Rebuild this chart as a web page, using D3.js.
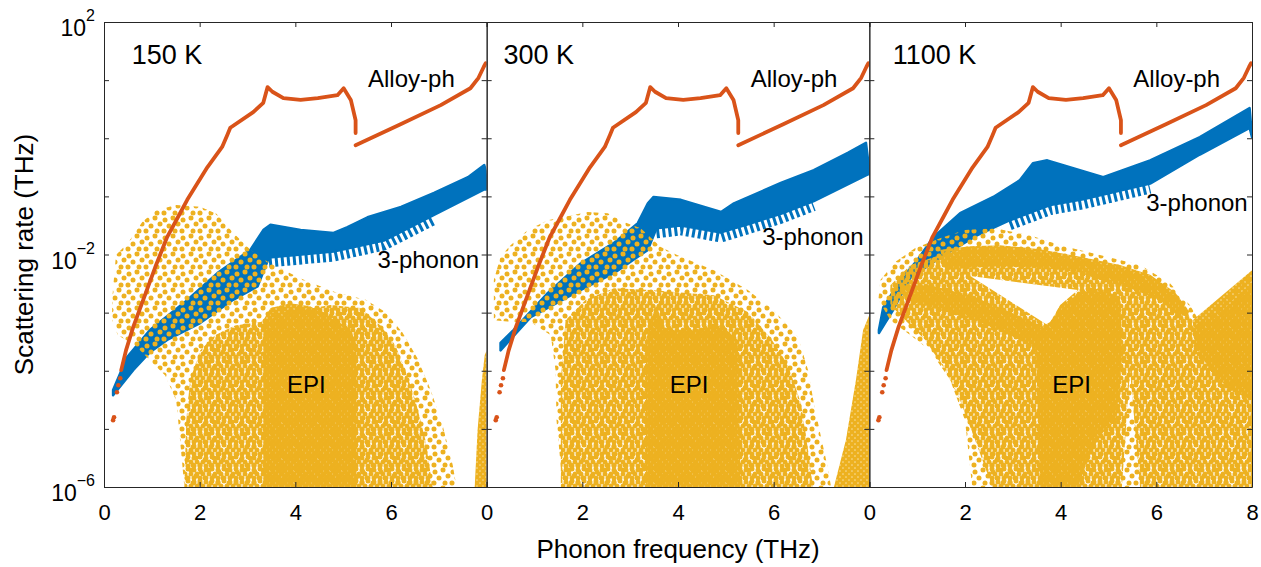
<!DOCTYPE html>
<html>
<head>
<meta charset="utf-8">
<script src="https://cdn.jsdelivr.net/npm/d3@7"></script>
<style>
  body { margin: 0; background: #fff; }
  svg { font-family: "Liberation Sans", Arial, Helvetica, sans-serif; }
</style>
</head>
<body>
<svg id="chart"></svg>
<script>
// values are [frequency THz, log10(scattering rate THz)]
const temps = ['150 K', '300 K', '1100 K'];
const freqTicks = [0, 2, 4, 6, 8];
const rateExps = [2, 1, 0, -1, -2, -3, -4, -5, -6];
const rateLabelExps = [2, -2, -6];

// alloy-phonon scattering (same in every panel)
const alloyLow = [[0.19, -4.85], [0.21, -4.80], [0.27, -4.37], [0.30, -4.25], [0.34, -4.13]];
const alloyA = [[0.36, -3.99], [0.46, -3.65], [0.61, -3.25], [0.82, -2.78], [1.07, -2.22], [1.32, -1.70],
  [1.59, -1.29], [1.74, -1.06], [2.16, -0.50], [2.47, -0.15], [2.58, 0.06], [2.64, 0.18], [3.12, 0.45],
  [3.33, 0.61], [3.42, 0.88], [3.52, 0.80], [3.75, 0.69], [4.11, 0.66], [4.47, 0.69], [4.88, 0.74],
  [5.01, 0.86], [5.16, 0.66], [5.26, 0.31], [5.26, 0.09]];
const alloyB = [[5.26, -0.12], [6.20, 0.24], [7.04, 0.57], [7.66, 0.86], [7.83, 1.04], [7.94, 1.23], [7.98, 1.29]];

// 3-phonon band envelopes
const ph150Upper = [[0.19, -4.33], [0.48, -3.77], [0.96, -3.30], [1.66, -2.84], [2.37, -2.32], [3.06, -1.92],
  [3.33, -1.58], [3.48, -1.49], [4.11, -1.58], [4.80, -1.63], [5.09, -1.53], [5.51, -1.36], [6.21, -1.18],
  [6.90, -0.94], [7.61, -0.67], [7.95, -0.46], [8.0, -0.63]];
const ph150Lower = [[0.19, -4.42], [0.61, -3.99], [0.96, -3.68], [1.32, -3.47], [2.01, -3.18], [2.70, -2.78],
  [3.21, -2.55], [3.45, -2.05], [3.84, -2.02], [4.80, -1.95], [5.85, -1.76], [6.90, -1.32], [7.95, -0.88], [8.0, -0.88]];
const ph300Upper = [[0.29, -3.52], [0.56, -3.30], [1.28, -2.66], [1.97, -2.15], [2.66, -1.80], [3.16, -1.46],
  [3.37, -1.12], [3.49, -1.01], [4.06, -1.06], [4.90, -1.27], [5.17, -1.12], [6.15, -0.77], [6.84, -0.55],
  [7.55, -0.25], [7.93, -0.08], [8.0, -0.55]];
const ph300Lower = [[0.29, -3.65], [0.92, -3.08], [1.97, -2.61], [2.66, -2.32], [3.37, -1.92], [3.55, -1.55],
  [4.06, -1.50], [4.90, -1.62], [5.46, -1.48], [6.15, -1.30], [6.84, -1.08], [7.97, -0.62], [8.0, -0.62]];
const ph1100Upper = [[0.20, -3.30], [0.29, -2.91], [0.65, -2.44], [1.0, -2.10], [1.34, -1.70], [1.90, -1.29],
  [2.59, -1.01], [3.15, -0.72], [3.42, -0.43], [3.72, -0.38], [4.0, -0.45], [4.89, -0.67], [5.87, -0.38],
  [6.91, 0.02], [7.95, 0.52], [8.0, 0.02]];
const ph1100Lower = [[0.20, -3.35], [0.50, -2.95], [0.86, -2.40], [1.54, -2.02], [2.25, -1.67], [2.94, -1.41],
  [3.78, -1.15], [4.47, -1.05], [5.87, -0.78], [6.91, -0.28], [7.95, 0.18], [8.0, 0.02]];

// EPI point cloud outlines, by density
const epi150Sparse = [[0.17, -2.78], [0.25, -2.01], [0.50, -1.80], [0.80, -1.44], [1.09, -1.24], [1.51, -1.15],
  [2.01, -1.18], [2.35, -1.30], [2.68, -1.61], [3.06, -1.92], [3.43, -2.13], [4.10, -2.41], [4.84, -2.65],
  [5.47, -2.78], [5.88, -2.99], [6.24, -3.34], [6.55, -3.78], [6.83, -4.33], [7.08, -4.94], [7.29, -5.62],
  [7.37, -6.0], [1.68, -6.0], [1.59, -5.19], [1.51, -4.51], [1.28, -4.08], [0.96, -3.82], [0.65, -3.56],
  [0.29, -3.39], [0.17, -3.13]];
const epi150Medium = [[1.68, -6.0], [1.72, -4.85], [1.80, -4.16], [2.01, -3.65], [2.32, -3.39], [2.74, -3.22],
  [3.27, -3.16], [3.90, -2.99], [4.73, -2.87], [5.36, -2.92], [5.78, -3.22], [6.09, -3.56], [6.30, -3.99],
  [6.51, -4.51], [6.72, -5.19], [6.87, -6.0]];
const epi150Dense = [[3.33, -6.0], [3.33, -3.13], [3.48, -2.92], [3.90, -2.84], [4.31, -2.89], [4.73, -3.09],
  [5.15, -3.27], [5.28, -3.56], [5.28, -6.0]];
const epi150Edge = [[7.75, -6.0], [7.81, -5.02], [7.90, -4.16], [7.96, -3.73], [8.0, -3.65], [8.0, -6.0]];

const epi300Sparse = [[0.15, -3.13], [0.15, -2.44], [0.29, -2.04], [0.50, -1.84], [0.86, -1.58], [1.28, -1.41],
  [2.11, -1.27], [2.53, -1.29], [2.87, -1.44], [3.22, -1.55], [3.64, -1.87], [4.06, -2.04], [4.75, -2.27],
  [5.46, -2.61], [6.00, -2.96], [6.51, -3.42], [6.72, -3.99], [6.84, -4.56], [6.99, -5.14], [7.13, -5.66],
  [7.20, -6.0], [1.59, -6.0], [1.46, -4.85], [1.44, -3.99], [1.34, -3.39], [0.92, -3.16], [0.50, -3.16]];
const epi300Medium = [[1.55, -6.0], [1.55, -4.16], [1.65, -3.13], [2.07, -2.78], [2.66, -2.58], [3.43, -2.61],
  [4.75, -2.70], [5.46, -2.99], [5.94, -3.44], [6.30, -3.90], [6.57, -4.56], [6.72, -5.37], [6.82, -6.0]];
const epi300Dense = [[3.33, -6.0], [3.33, -3.47], [3.54, -2.87], [3.74, -3.30], [4.27, -3.30], [4.90, -3.22],
  [5.25, -3.47], [5.31, -6.0]];
const epi300Edge = [[7.26, -6.0], [7.51, -5.19], [7.72, -4.16], [7.87, -3.30], [8.0, -3.04], [8.0, -6.0]];

const epi1100Sparse = [[0.19, -2.78], [0.23, -2.44], [0.54, -2.13], [0.96, -1.89], [1.48, -1.72], [2.00, -1.58],
  [2.63, -1.55], [3.36, -1.67], [3.99, -1.84], [4.82, -2.01], [5.66, -2.18], [6.28, -2.49], [6.70, -2.87],
  [6.91, -3.16], [8.0, -2.30], [8.0, -6.0], [2.15, -6.0], [2.00, -4.85], [1.69, -4.16], [1.27, -3.65],
  [0.86, -3.39], [0.44, -3.13]];
const epi1100Medium = [[0.44, -2.53], [0.86, -2.18], [1.48, -2.01], [2.11, -1.92], [2.73, -1.89], [3.57, -1.96],
  [4.41, -2.10], [5.24, -2.23], [5.97, -2.44], [6.49, -2.78], [6.80, -3.22], [7.12, -3.13], [8.0, -2.53],
  [8.0, -6.0], [5.66, -6.0], [5.45, -3.99], [5.28, -6.0], [2.57, -6.0], [2.21, -5.19], [1.90, -4.51],
  [1.59, -3.99], [1.17, -3.47], [0.75, -3.13], [0.44, -2.87]];
const epi1100Arc = [[1.48, -1.92], [2.11, -1.86], [2.73, -1.84], [3.57, -1.91], [4.41, -2.04], [5.24, -2.18],
  [5.87, -2.35], [6.39, -2.65], [6.70, -2.99], [6.49, -3.09], [6.07, -2.78], [5.45, -2.58], [4.82, -2.44],
  [4.36, -2.30], [3.57, -2.23], [2.73, -2.20], [2.11, -2.23], [1.59, -2.27]];
const epi1100Hole = [[2.11, -2.37], [4.36, -2.61], [3.99, -2.87], [3.74, -3.22]];
const epi1100Diag = [[0.65, -2.53], [1.27, -2.53], [2.11, -2.70], [2.94, -2.99], [3.57, -3.22], [3.57, -3.65],
  [2.94, -3.39], [2.21, -3.13], [1.48, -2.96], [0.75, -2.78]];
const epi1100Dense = [[3.57, -6.0], [3.47, -3.30], [3.78, -3.16], [4.03, -2.87], [4.41, -2.65], [4.82, -2.58],
  [5.24, -2.75], [5.30, -3.65], [5.16, -4.85], [4.72, -5.19], [4.36, -6.0]];
const epi1100Edge = [[6.76, -3.13], [8.0, -2.27], [8.0, -4.51], [7.54, -4.33], [7.12, -3.99], [6.80, -3.56]];

const orange = '#D95319', blue = '#0072BD', yellow = '#EDB120', axisColor = '#262626';

const W = 1261, H = 567;
const margin = { top: 22, right: 9, bottom: 80, left: 104 };
const panelW = (W - margin.left - margin.right) / 3;
const bottomY = H - margin.bottom;

const panels = [
  { temp: temps[0], tempAt: 0.58, upper: ph150Upper, lower: ph150Lower, teeth: [3.45, 7.0],
    phLabel: [7.84, -2.23],
    layers: [['sparse', epi150Sparse], ['medium', epi150Medium], ['dense', epi150Dense], ['dense', epi150Edge]] },
  { temp: temps[1], tempAt: 0.35, upper: ph300Upper, lower: ph300Lower, teeth: [3.5, 7.0],
    phLabel: [7.88, -1.84],
    layers: [['sparse', epi300Sparse], ['medium', epi300Medium], ['dense', epi300Dense], ['dense', epi300Edge]] },
  { temp: temps[2], tempAt: 0.49, upper: ph1100Upper, lower: ph1100Lower, teeth: [2.9, 6.6],
    phLabel: [7.91, -1.25],
    layers: [['sparse', epi1100Sparse], ['medium', epi1100Medium], ['dense', epi1100Arc], ['hole', epi1100Hole],
      ['dense', epi1100Diag], ['dense', epi1100Dense], ['dense', epi1100Edge]] }
];

const svg = d3.select('#chart').attr('width', W).attr('height', H);
const defs = svg.append('defs');

// dot textures for the EPI clouds
function addPattern(id, size, dots, r) {
  const p = defs.append('pattern').attr('id', id)
    .attr('patternUnits', 'userSpaceOnUse')
    .attr('width', size).attr('height', size);
  dots.forEach(([cx, cy]) => {
    [-size, 0, size].forEach(ox => [-size, 0, size].forEach(oy => {
      p.append('circle').attr('cx', cx + ox).attr('cy', cy + oy).attr('r', r).attr('fill', yellow);
    }));
  });
}
addPattern('sparse', 18, [[3, 4], [11, 2], [16, 8], [7, 10], [13, 15], [2, 15]], 2.5);
addPattern('medium', 12, [[2, 2], [8, 1], [5, 6], [11, 6], [2, 10], [8, 10]], 2.5);
addPattern('dense', 6, [[0, 0], [3, 3]], 2.6);

const y = d3.scaleLog().domain([1e-6, 1e2]).range([bottomY, margin.top]);

panels.forEach((p, i) => {
  const x0 = margin.left + i * panelW;
  const x = d3.scaleLinear().domain([0, 8]).range([x0, x0 + panelW]);
  const line = d3.line().x(d => x(d[0])).y(d => y(Math.pow(10, d[1])));

  defs.append('clipPath').attr('id', 'clip' + i)
    .append('rect').attr('x', x0).attr('y', margin.top)
    .attr('width', panelW).attr('height', bottomY - margin.top);

  const g = svg.append('g').attr('clip-path', `url(#clip${i})`);

  // 3-phonon band
  g.append('path')
    .attr('d', line(p.upper.concat(p.lower.slice().reverse())) + 'Z')
    .attr('fill', blue).attr('stroke', blue).attr('stroke-width', 2.5).attr('stroke-linejoin', 'round');
  g.append('path')
    .attr('d', line(p.lower.filter(d => d[0] >= p.teeth[0] && d[0] <= p.teeth[1])))
    .attr('transform', 'translate(0,5)')
    .attr('fill', 'none').attr('stroke', blue)
    .attr('stroke-width', 10).attr('stroke-dasharray', '3 3');

  // EPI cloud
  p.layers.forEach(([kind, pts]) => {
    g.append('path')
      .attr('d', line(pts) + 'Z')
      .attr('fill', kind === 'hole' ? '#fff' : `url(#${kind})`);
  });

  // alloy-phonon
  [alloyA, alloyB].forEach(seg => {
    g.append('path').attr('d', line(seg))
      .attr('fill', 'none').attr('stroke', orange).attr('stroke-width', 3.8)
      .attr('stroke-linecap', 'round').attr('stroke-linejoin', 'round');
  });
  g.selectAll('circle.low').data(alloyLow).enter().append('circle')
    .attr('cx', d => x(d[0])).attr('cy', d => y(Math.pow(10, d[1]))).attr('r', 2.3).attr('fill', orange);

  // annotations
  const txt = (t, fx, fl, size, anchor) => svg.append('text')
    .attr('x', x(fx)).attr('y', y(Math.pow(10, fl)))
    .attr('font-size', size).attr('text-anchor', anchor).attr('fill', '#000').text(t);
  txt(p.temp, p.tempAt, 1.28, 27, 'start');
  txt('Alloy-ph', 5.52, 0.88, 24, 'start');
  txt('3-phonon', p.phLabel[0], p.phLabel[1], 24, 'end');
  txt('EPI', 4.23, -4.39, 24, 'middle');

  // axes box with inward ticks
  const styleAxis = sel => {
    sel.select('.domain').attr('stroke', axisColor);
    sel.selectAll('.tick line').attr('stroke', axisColor);
    sel.selectAll('.tick text').attr('fill', '#000').attr('font-size', 22)
      .attr('font-family', '"Liberation Sans", Arial, Helvetica, sans-serif');
  };
  const yTicks = rateExps.map(e => Math.pow(10, e));
  svg.append('g').attr('transform', `translate(0,${bottomY})`)
    .call(d3.axisBottom(x).tickValues(freqTicks).tickSize(-5).tickSizeOuter(0).tickPadding(17)
      .tickFormat(d => (i < 2 && d === 8) ? '' : d))
    .call(styleAxis);
  svg.append('g').attr('transform', `translate(0,${margin.top})`)
    .call(d3.axisTop(x).tickValues(freqTicks).tickSize(-5).tickSizeOuter(0).tickFormat(''))
    .call(styleAxis);
  svg.append('g').attr('transform', `translate(${x0},0)`)
    .call(d3.axisLeft(y).tickValues(yTicks).tickSize(-5).tickSizeOuter(0).tickFormat(''))
    .call(styleAxis);
  svg.append('g').attr('transform', `translate(${x0 + panelW},0)`)
    .call(d3.axisRight(y).tickValues(yTicks).tickSize(-5).tickSizeOuter(0).tickFormat(''))
    .call(styleAxis);
});

// y tick labels with superscripts
rateLabelExps.forEach(e => {
  const t = svg.append('text')
    .attr('x', margin.left - 9).attr('y', y(Math.pow(10, e)) + 14)
    .attr('text-anchor', 'end').attr('font-size', 23).attr('fill', '#000');
  t.append('tspan').text('10');
  t.append('tspan').attr('dy', -15).attr('font-size', 16).text(e < 0 ? '\u2212' + (-e) : String(e));
});

svg.append('text')
  .attr('x', margin.left + 1.5 * panelW).attr('y', 558)
  .attr('text-anchor', 'middle').attr('font-size', 26).text('Phonon frequency (THz)');
svg.append('text')
  .attr('transform', `translate(33,${(margin.top + bottomY) / 2}) rotate(-90)`)
  .attr('text-anchor', 'middle').attr('font-size', 26).text('Scattering rate (THz)');
</script>
</body>
</html>
